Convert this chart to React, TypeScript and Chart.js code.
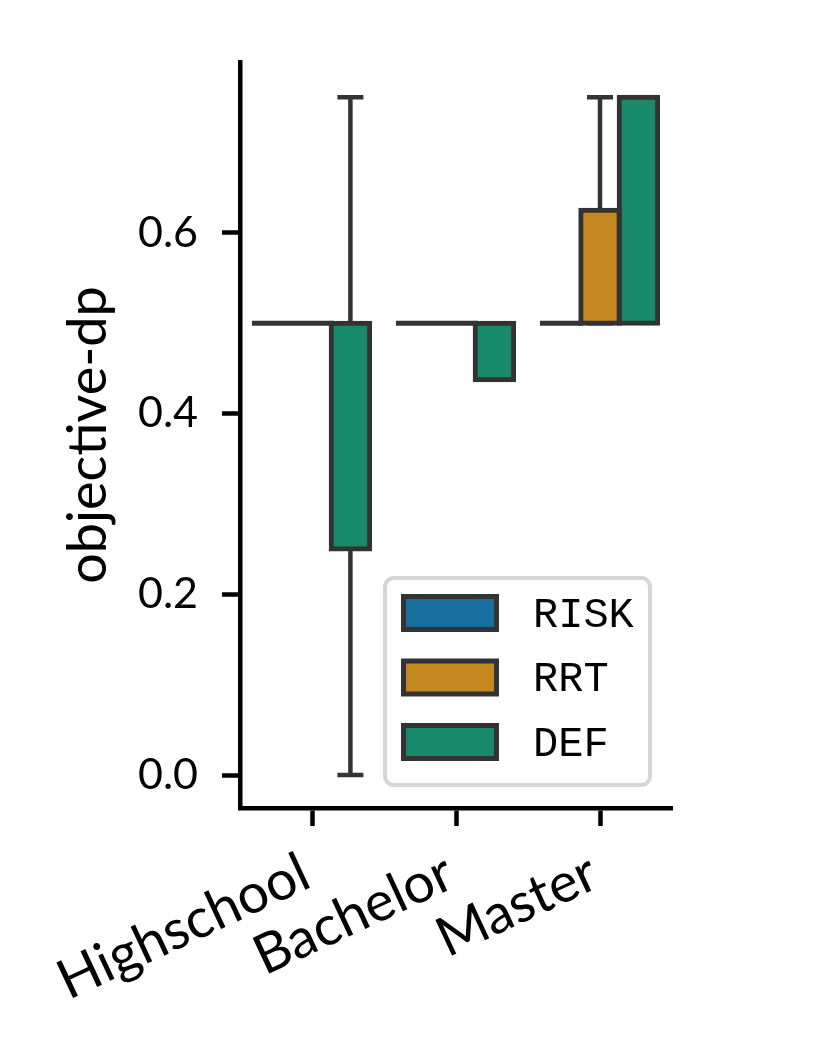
import { useEffect, useRef } from "react";
import Chart from "chart.js/auto";

const categories = ["Highschool", "Bachelor", "Master"];
const seriesNames = ["RISK", "RRT", "DEF"];
const riskValues = [0.5, 0.5, 0.5];
const rrtValues = [0.5, 0.5, 0.625];
const defValues = [0.25, 0.4375, 0.75];
// error bar ranges [low, high], null = none visible
const riskErr: (number[] | null)[] = [null, null, null];
const rrtErr: (number[] | null)[] = [null, null, [0.5, 0.75]];
const defErr: (number[] | null)[] = [[0, 0.75], null, null];
const yTicks = [0, 0.2, 0.4, 0.6];
const BASE = 0.5;

const colors = ["#176d9c", "#c38820", "#168a6a"];
const EDGE = "#333333";

const errorBars = {
  id: "errorBars",
  beforeDatasetsDraw(chart: any) {
    const { ctx } = chart;
    const y = chart.scales.y;
    const errs = [riskErr, rrtErr, defErr];
    ctx.save();
    ctx.strokeStyle = EDGE;
    ctx.lineWidth = 4.5;
    errs.forEach((list, i) => {
      const meta = chart.getDatasetMeta(i);
      list.forEach((e, j) => {
        if (!e) return;
        const x = meta.data[j].x;
        const y0 = y.getPixelForValue(e[0]);
        const y1 = y.getPixelForValue(e[1]);
        ctx.beginPath();
        ctx.moveTo(x, y0);
        ctx.lineTo(x, y1);
        ctx.moveTo(x - 13, y0);
        ctx.lineTo(x + 13, y0);
        ctx.moveTo(x - 13, y1);
        ctx.lineTo(x + 13, y1);
        ctx.stroke();
      });
    });
    ctx.restore();
  },
  afterDatasetsDraw(chart: any) {
    // flat bars (value == base) show only as an edge line; one path, one stroke
    const { ctx } = chart;
    ctx.save();
    ctx.strokeStyle = EDGE;
    ctx.lineWidth = 5;
    ctx.beginPath();
    chart.data.datasets.forEach((_: any, i: number) => {
      chart.getDatasetMeta(i).data.forEach((el: any) => {
        const p = el.getProps(["x", "y", "base", "width"], true);
        if (Math.abs(p.y - p.base) < 1) {
          ctx.moveTo(p.x - p.width / 2 - 2.5, p.y);
          ctx.lineTo(p.x + p.width / 2 + 2.5, p.y);
        }
      });
    });
    ctx.stroke();
    ctx.restore();
  },
};

const boxLegend = {
  id: "boxLegend",
  afterDraw(chart: any) {
    const { ctx, chartArea } = chart;
    const w = 269;
    const h = 211;
    const left = chartArea.right - 20 - w;
    const top = chartArea.bottom - 21 - h;
    ctx.save();
    ctx.fillStyle = "rgba(255,255,255,0.8)";
    ctx.strokeStyle = "#d6d6d6";
    ctx.lineWidth = 4;
    ctx.beginPath();
    ctx.roundRect(left + 2, top + 2, w - 4, h - 4, 9);
    ctx.fill();
    ctx.stroke();
    ctx.font = "42px 'Liberation Mono'";
    ctx.textBaseline = "middle";
    chart.data.datasets.forEach((ds: any, i: number) => {
      const sy = top + 20.5 + i * 64.5;
      ctx.fillStyle = ds.backgroundColor;
      ctx.fillRect(left + 20.5, sy, 93, 33);
      ctx.strokeStyle = EDGE;
      ctx.lineWidth = 5;
      ctx.strokeRect(left + 20.5, sy, 93, 33);
      ctx.fillStyle = "#000";
      ctx.fillText(ds.label, left + 150, sy + 19);
    });
    ctx.restore();
  },
};

const App = () => {
  const chartRef: any = useRef(null);
  useEffect(() => {
    const ctx = chartRef.current.getContext("2d");
    const valueLists = [riskValues, rrtValues, defValues];
    const axisGrid = {
      display: true,
      drawOnChartArea: false,
      offset: false,
      drawTicks: true,
      tickLength: 18,
      tickWidth: 4.5,
      tickColor: "#000",
    };
    const axisBorder = { display: true, color: "#000", width: 4.5 };

    const theChart = new Chart(ctx, {
      type: "bar",
      data: {
        labels: categories,
        datasets: seriesNames.map((name, i) => ({
          label: name,
          data: valueLists[i],
          base: BASE,
          backgroundColor: colors[i],
          borderColor: EDGE,
          borderWidth: (c: any) => (c.raw === BASE ? 0 : 5),
          inflateAmount: (c: any) => (c.raw === BASE ? 0 : 2.5),
          borderSkipped: false,
          categoryPercentage: 0.8,
          barPercentage: 1.0,
        })),
      },
      options: {
        animation: false,
        responsive: true,
        maintainAspectRatio: false,
        layout: { padding: { left: 56, right: 158, top: 62, bottom: 0 } },
        plugins: {
          legend: { display: false },
          tooltip: { enabled: false },
        },
        scales: {
          x: {
            type: "category",
            offset: true,
            grid: axisGrid,
            border: axisBorder,
            ticks: {
              color: "#000",
              font: { family: "Lato", size: 55 },
              minRotation: 25,
              maxRotation: 25,
              autoSkip: false,
              padding: 14,
              labelOffset: -6,
            },
            afterFit: (s: any) => {
              s.height = 230;
            },
          },
          y: {
            min: -0.0365,
            max: 0.789,
            afterBuildTicks: (s: any) => {
              s.ticks = yTicks.map((v) => ({ value: v }));
            },
            grid: axisGrid,
            border: axisBorder,
            ticks: {
              color: "#000",
              font: { family: "Lato", size: 43 },
              padding: 24,
              callback: (v: any) => Number(v).toFixed(1),
            },
            title: {
              display: true,
              text: "objective-dp",
              color: "#000",
              font: { family: "Lato", size: 54 },
              padding: 0,
            },
            afterFit: (s: any) => {
              s.width = 184;
            },
          },
        },
      },
      plugins: [errorBars, boxLegend],
    } as any);

    return () => { theChart.destroy() }
  }, []);

  return (
    <div style={{ position: "fixed", left: 0, top: 0, width: 830, height: 1038 }}>
      <canvas ref={chartRef} />
    </div>
  );
};

export default App;
